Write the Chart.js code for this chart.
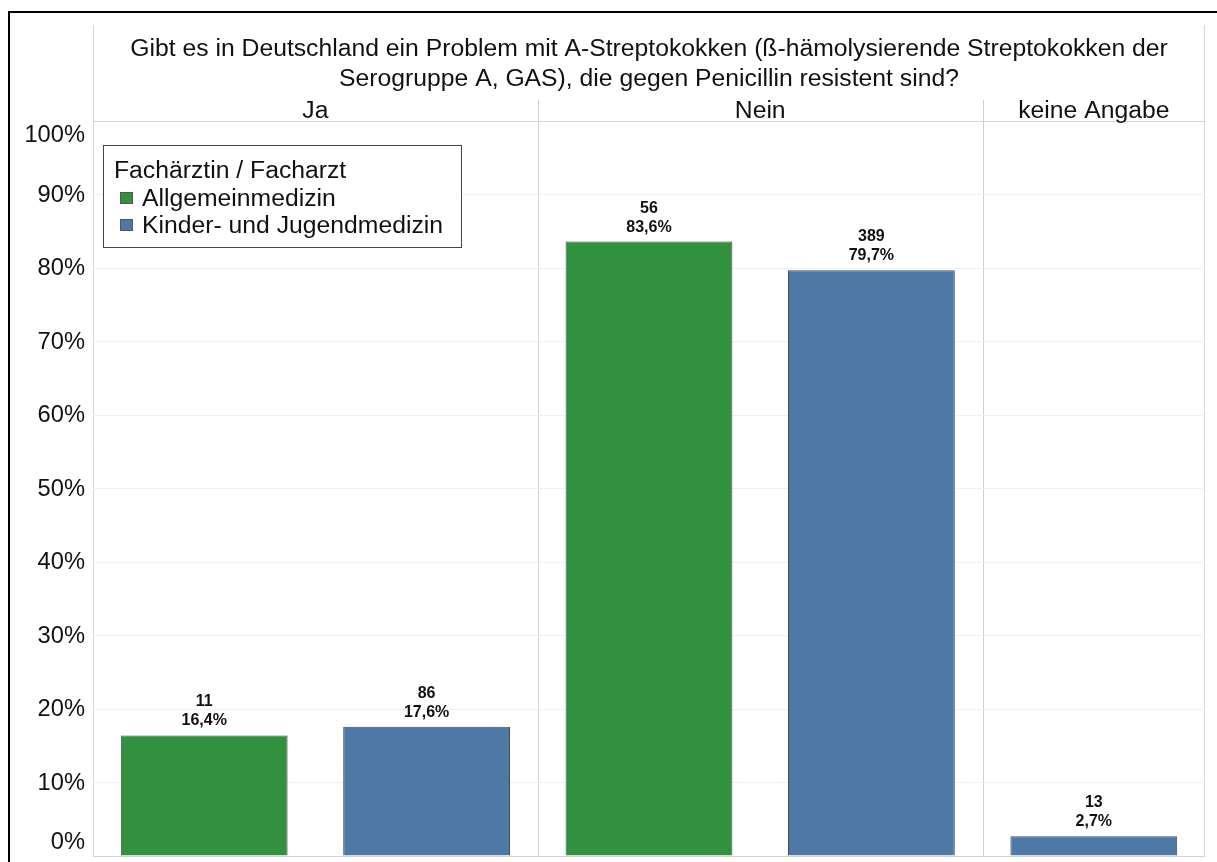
<!DOCTYPE html>
<html lang="de">
<head>
<meta charset="utf-8">
<title>A-Streptokokken Penicillinresistenz</title>
<script src="https://cdn.jsdelivr.net/npm/chart.js@4.4.1/dist/chart.umd.min.js"></script>
<style>
  html, body { margin: 0; padding: 0; background: #fff; }
  #wrap { position: relative; width: 1217px; height: 862px; }
</style>
</head>
<body>
<div id="wrap"><canvas id="chart"></canvas></div>
<script>
const titleLines = [
  'Gibt es in Deutschland ein Problem mit A-Streptokokken (ß-hämolysierende Streptokokken der',
  'Serogruppe A, GAS), die gegen Penicillin resistent sind?'
];
const legendTitle = 'Fachärztin / Facharzt';
const answers = ['Ja', 'Nein', 'keine Angabe'];
// one slot per bar, "keine Angabe" only has a pediatrics bar
const slots = ['Ja', 'Ja', 'Nein', 'Nein', 'keine Angabe'];
const groups = ['Allgemeinmedizin', 'Kinder- und Jugendmedizin'];
const allgPercent = [16.4, null, 83.6, null, null];
const allgCount = [11, null, 56, null, null];
const kindPercent = [null, 17.6, null, 79.7, 2.7];
const kindCount = [null, 86, null, 389, 13];
const yTicks = [0, 10, 20, 30, 40, 50, 60, 70, 80, 90, 100];

const FONT = '"Liberation Sans", Arial, sans-serif';
const GREEN = '#31913f';
const BLUE = '#4e79a7';
const TEXT = '#111';

const counts = [allgCount, kindCount];

// text drawn slightly wider than the font's natural width
function wideText(ctx, text, x, y, sx) {
  ctx.save();
  ctx.translate(x, y);
  ctx.scale(sx, 1);
  ctx.fillText(text, 0, 0);
  ctx.restore();
}

const decorations = {
  id: 'decorations',
  beforeDraw(chart) {
    const { ctx, chartArea: a } = chart;
    ctx.save();
    ctx.fillStyle = '#fff';
    ctx.fillRect(0, 0, chart.width, chart.height);

    // outer frame (left and top only)
    ctx.strokeStyle = '#000';
    ctx.lineWidth = 2;
    ctx.beginPath();
    ctx.moveTo(9, chart.height);
    ctx.lineTo(9, 12);
    ctx.lineTo(chart.width, 12);
    ctx.stroke();

    // header box lines
    ctx.strokeStyle = '#d6d6d6';
    ctx.lineWidth = 1;
    ctx.beginPath();
    ctx.moveTo(Math.round(a.left) + 0.5, 25);
    ctx.lineTo(Math.round(a.left) + 0.5, a.bottom);
    ctx.moveTo(Math.round(a.right) - 0.5, 25);
    ctx.lineTo(Math.round(a.right) - 0.5, a.bottom);
    ctx.stroke();

    // separators between answer groups
    const x = chart.scales.x;
    ctx.strokeStyle = '#d0d0d0';
    ctx.beginPath();
    [2, 4].forEach(i => {
      const px = Math.round((x.getPixelForValue(i - 1) + x.getPixelForValue(i)) / 2) + 0.5;
      ctx.moveTo(px, 100);
      ctx.lineTo(px, a.bottom);
    });
    ctx.stroke();
    ctx.restore();
  },
  afterDraw(chart) {
    const { ctx, chartArea: a } = chart;
    const x = chart.scales.x, y = chart.scales.y;
    ctx.save();
    ctx.fillStyle = TEXT;
    ctx.textAlign = 'center';
    ctx.textBaseline = 'alphabetic';

    // title
    ctx.font = '23px ' + FONT;
    const cx = (a.left + a.right) / 2;
    wideText(ctx, titleLines[0], cx, 56, 1.075);
    wideText(ctx, titleLines[1], cx, 86, 1.075);

    // answer headers
    answers.forEach(ans => {
      const idx = slots.map((s, i) => s === ans ? i : -1).filter(i => i >= 0);
      const px = idx.reduce((s, i) => s + x.getPixelForValue(i), 0) / idx.length;
      wideText(ctx, ans, px, 118, 1.075);
    });

    // y labels, edge labels kept inside the plot
    ctx.textAlign = 'right';
    ctx.textBaseline = 'middle';
    ctx.font = '23px ' + FONT;
    yTicks.forEach(v => {
      let py = y.getPixelForValue(v);
      py = Math.min(Math.max(py, a.top + 14), a.bottom - 14);
      wideText(ctx, v + '%', 85, py + 1, 1.03);
    });

    // value labels above bars
    ctx.textAlign = 'center';
    ctx.textBaseline = 'alphabetic';
    ctx.font = 'bold 16px ' + FONT;
    chart.data.datasets.forEach((ds, di) => {
      chart.getDatasetMeta(di).data.forEach((bar, i) => {
        const v = ds.data[i];
        if (v == null) return;
        ctx.fillText(String(counts[di][i]), bar.x, bar.y - 29);
        ctx.fillText(v.toFixed(1).replace('.', ',') + '%', bar.x, bar.y - 10);
      });
    });

    // legend box
    const lx = 103, ly = 145, lw = 358, lh = 102;
    ctx.fillStyle = '#fff';
    ctx.fillRect(lx, ly, lw, lh);
    ctx.strokeStyle = '#444';
    ctx.lineWidth = 1;
    ctx.strokeRect(lx + 0.5, ly + 0.5, lw, lh);
    ctx.textAlign = 'left';
    ctx.fillStyle = TEXT;
    ctx.font = '23px ' + FONT;
    wideText(ctx, legendTitle, 114, 178, 1.075);
    chart.data.datasets.forEach((ds, di) => {
      const base = 206 + di * 27;
      ctx.fillStyle = ds.backgroundColor;
      ctx.fillRect(120, base - 14, 13, 12);
      ctx.strokeStyle = '#555';
      ctx.strokeRect(120.5, base - 13.5, 12, 11);
      ctx.fillStyle = TEXT;
      wideText(ctx, ds.label, 142, base, 1.075);
    });
    ctx.restore();
  }
};

new Chart(document.getElementById('chart'), {
  type: 'bar',
  data: {
    labels: slots,
    datasets: [
      { label: groups[0], data: allgPercent, backgroundColor: GREEN },
      { label: groups[1], data: kindPercent, backgroundColor: BLUE }
    ]
  },
  options: {
    responsive: true,
    maintainAspectRatio: false,
    animation: false,
    layout: { padding: { top: 121, left: 93, right: 12, bottom: 6 } },
    datasets: {
      bar: {
        borderColor: '#4a4a4a',
        borderWidth: 1,
        categoryPercentage: 1,
        barPercentage: 0.75
      }
    },
    plugins: {
      legend: { display: false },
      tooltip: { enabled: false }
    },
    scales: {
      x: {
        display: false,
        stacked: true
      },
      y: {
        stacked: true,
        min: 0,
        max: 100,
        ticks: { display: false, stepSize: 10 },
        border: { display: false },
        grid: {
          drawTicks: false,
          color: c => (c.tick.value === 0 || c.tick.value === 100) ? '#d4d4d4' : '#f0f0f0'
        }
      }
    }
  },
  plugins: [decorations]
});
</script>
</body>
</html>
